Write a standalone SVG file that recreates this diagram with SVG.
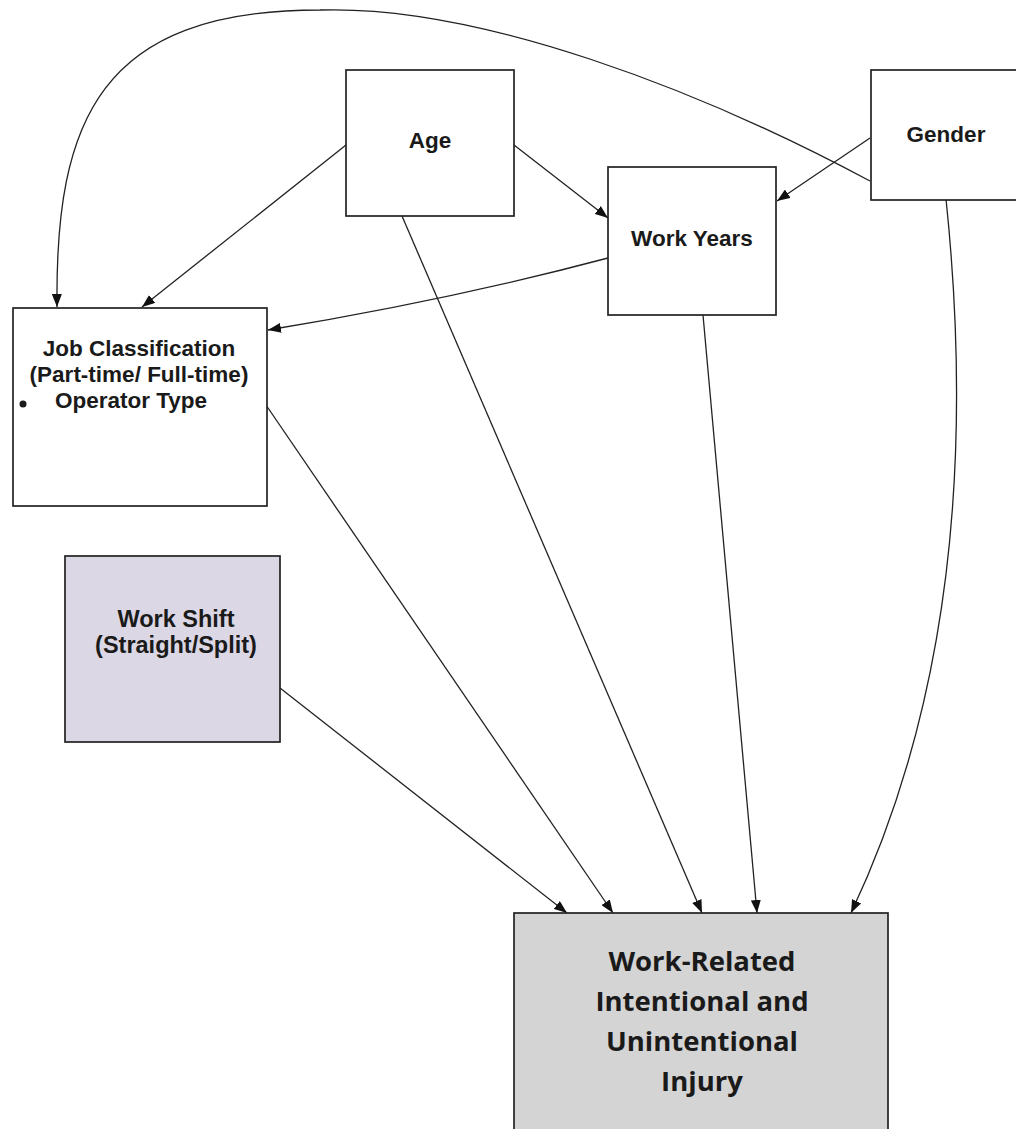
<svg xmlns="http://www.w3.org/2000/svg" width="1016" height="1129" viewBox="0 0 1016 1129">
<defs>
<style>
.box{stroke:#222;stroke-width:1.7;fill:#fff}
.lbl{font-family:"Liberation Sans",Arial,sans-serif;font-weight:bold;font-size:22.5px;fill:#1a1a1a;text-anchor:middle}
.out{font-family:"Open Sans","Noto Sans",sans-serif;font-weight:bold;font-size:27.5px;fill:#1a1a1a;text-anchor:middle}
.con path{fill:none;stroke:#222;stroke-width:1.3;marker-end:url(#ah)}
</style>
<marker id="ah" markerUnits="userSpaceOnUse" markerWidth="14" markerHeight="10" refX="13" refY="5" orient="auto" viewBox="0 0 14 10">
<path d="M0,0 L13,5 L0,10 z" fill="#111"/>
</marker>
</defs>
<rect width="1016" height="1129" fill="#fff"/>
<g id="connectors" class="con">
<path d="M870,181 C700,90 480,5 320,10 C100,10 55,120 57,307"/>
<path d="M346,145 L142,307"/>
<path d="M514,145 L608,218"/>
<path d="M870,138 L777,201"/>
<path d="M608,258 Q450,300 268,330"/>
<path d="M402,216 L702,913"/>
<path d="M703,315 L757,913"/>
<path d="M946,199 Q990,620 851,913"/>
<path d="M266,405 L613,913"/>
<path d="M280,688 L567,913"/>
</g>
<g id="age">
<rect class="box" x="346" y="70" width="168" height="146"/>
<text class="lbl" x="430" y="148">Age</text>
</g>
<g id="gender">
<rect class="box" x="871" y="70" width="150" height="130"/>
<text class="lbl" x="946" y="142">Gender</text>
</g>
<g id="work-years">
<rect class="box" x="608" y="167" width="168" height="148"/>
<text class="lbl" x="692" y="246">Work Years</text>
</g>
<g id="job-classification">
<rect class="box" x="13" y="308" width="254" height="198"/>
<text class="lbl" x="139" y="356">Job Classification</text>
<text class="lbl" x="139" y="382">(Part-time/ Full-time)</text>
<circle cx="23" cy="404" r="3.5" fill="#1a1a1a"/>
<text class="lbl" x="55" y="408" style="text-anchor:start">Operator Type</text>
</g>
<g id="work-shift">
<rect class="box" x="65" y="556" width="215" height="186" style="fill:#dcd7e5"/>
<text class="lbl" x="176" y="627" style="font-size:23.5px">Work Shift</text>
<text class="lbl" x="176" y="653" style="font-size:23.5px">(Straight/Split)</text>
</g>
<g id="outcome">
<rect class="box" x="514" y="913" width="374" height="230" style="fill:#d4d4d4"/>
<text class="out" x="702" y="971">Work-Related</text>
<text class="out" x="702" y="1011">Intentional and</text>
<text class="out" x="702" y="1051">Unintentional</text>
<text class="out" x="702" y="1091">Injury</text>
</g>
</svg>
